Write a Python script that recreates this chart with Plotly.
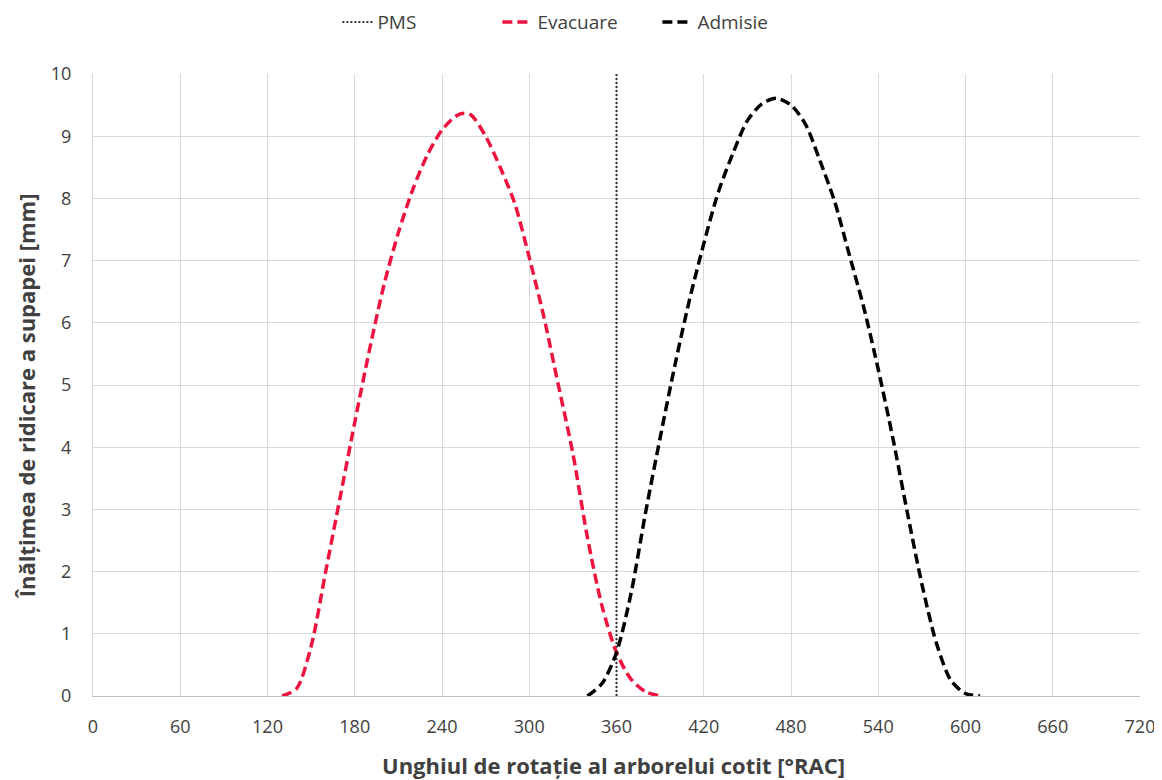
import plotly.graph_objects as go

# Evacuare (exhaust) valve lift [mm] vs crank angle [°RAC]
evac_deg = [130, 140, 150, 160, 170, 180, 190, 200, 210, 220, 230, 240, 250, 255, 260, 270,
            280, 290, 300, 310, 320, 330, 340, 350, 360, 370, 380, 390]
evac_lift = [0, 0.12, 0.8, 2.0, 3.2, 4.4, 5.55, 6.6, 7.45, 8.15, 8.7, 9.1, 9.33, 9.37, 9.34, 9.0,
             8.5, 7.92, 7.05, 6.1, 5.0, 3.9, 2.55, 1.45, 0.7, 0.27, 0.07, 0]

# Admisie (intake) valve lift [mm]
adm_deg = [340, 350, 360, 370, 380, 390, 400, 410, 420, 430, 440, 450, 460, 470, 480, 490,
           500, 510, 520, 530, 540, 550, 560, 570, 580, 590, 600, 610]
adm_lift = [0, 0.2, 0.7, 1.65, 2.95, 4.15, 5.3, 6.35, 7.27, 8.1, 8.72, 9.25, 9.52, 9.61, 9.5, 9.19,
            8.6, 7.95, 7.1, 6.25, 5.25, 4.15, 2.95, 1.8, 0.85, 0.25, 0.04, 0]

# PMS (top dead centre) marker
pms_deg = [360, 360]
pms_lift = [0, 10]

x_ticks = list(range(0, 721, 60))
y_ticks = list(range(0, 11, 1))

font_family = "Open Sans, Liberation Sans, sans-serif"
txt = "#404040"

fig = go.Figure()
fig.add_trace(go.Scatter(x=pms_deg, y=pms_lift, mode="lines", name="PMS",
                         line=dict(color="#333333", width=2, dash="2px,2px")))
fig.add_trace(go.Scatter(x=evac_deg, y=evac_lift, mode="lines", name="Evacuare",
                         line=dict(color="#EE1440", width=3.5, dash="10px,5px",
                                   shape="spline", smoothing=0.8)))
fig.add_trace(go.Scatter(x=adm_deg, y=adm_lift, mode="lines", name="Admisie",
                         line=dict(color="#000000", width=3.5, dash="10px,5px",
                                   shape="spline", smoothing=0.8)))

fig.update_layout(
    width=1162, height=780,
    margin=dict(l=85, r=30, t=66, b=92),
    paper_bgcolor="white", plot_bgcolor="white",
    font=dict(family=font_family, size=18, color=txt),
    legend=dict(orientation="h", xref="container", x=0.49, xanchor="center",
                yref="container", y=0.982, yanchor="middle",
                font=dict(size=19, color=txt), traceorder="normal",
                entrywidth=115, entrywidthmode="pixels"),
    showlegend=True,
    annotations=[
        dict(text="<b>Unghiul de rotație al arborelui cotit [°RAC]</b>", xref="paper", yref="paper",
             x=0.497, y=-0.111, xanchor="center", yanchor="middle", showarrow=False,
             font=dict(size=22, color=txt)),
        dict(text="<b>Înălțimea de ridicare a supapei [mm]</b>", xref="paper", yref="paper",
             x=-0.064, y=0.482, xanchor="center", yanchor="middle", showarrow=False,
             textangle=-90, font=dict(size=22, color=txt)),
    ],
)

fig.update_xaxes(range=[0, 720], tickvals=x_ticks, showgrid=True, gridcolor="#D9D9D9", gridwidth=1,
                 zeroline=False, showline=True, linecolor="#BFBFBF", linewidth=1,
                 ticks="", tickfont=dict(size=18, color=txt), ticklabelstandoff=14,
                 automargin=False)
fig.update_yaxes(range=[0, 10], tickvals=y_ticks, showgrid=True, gridcolor="#D9D9D9", gridwidth=1,
                 zeroline=False, showline=True, linecolor="#D9D9D9", linewidth=1,
                 ticks="", tickfont=dict(size=18, color=txt), ticklabelstandoff=17,
                 automargin=False)

fig.write_html("out.html")
